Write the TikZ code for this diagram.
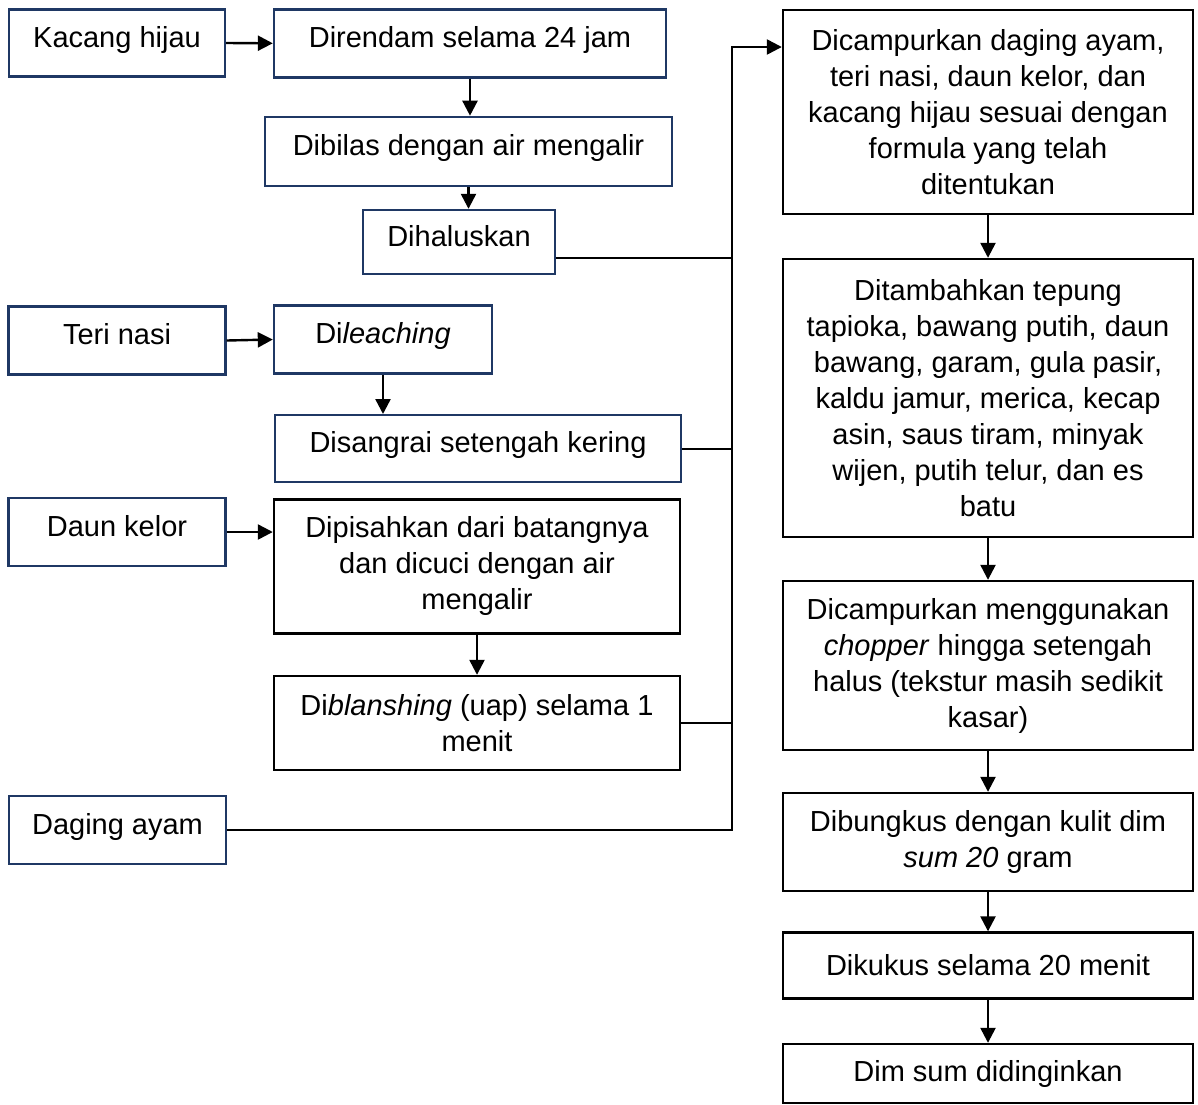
\documentclass[tikz,border=0pt]{standalone}
\usepackage{fontspec}
\setmainfont{Liberation Sans}
\usetikzlibrary{arrows.meta}
\definecolor{boxnavy}{HTML}{1F3864}
\begin{document}
\begin{tikzpicture}[x=1pt,y=-1pt,
  stepbox/.style={draw, line width=2.4pt, align=center, inner sep=2pt, font=\fontsize{29}{36}\selectfont},
  navybox/.style={stepbox, draw=boxnavy, text height=21pt, text depth=13pt},
  link/.style={line width=2.4pt},
  arr/.style={link, -{Triangle[length=15pt,width=15pt]}}]
\useasboundingbox (0,0) rectangle (1198,1104);
% kacang hijau
\node[navybox, minimum width=216pt, minimum height=67pt] (kacang) at (117,43) {Kacang hijau};
\node[navybox, minimum width=392pt, minimum height=68pt] (rendam) at (470,43.3) {Direndam selama 24 jam};
\node[navybox, minimum width=407pt, minimum height=69pt] (bilas) at (468.5,151.4) {Dibilas dengan air mengalir};
\node[navybox, minimum width=192pt, minimum height=64pt] (halus) at (459,242) {Dihaluskan};
\draw[arr] (kacang.east) -- (rendam.west);
\draw[arr] (rendam.south) -- (rendam.south |- bilas.north);
\draw[arr] (bilas.south) -- (bilas.south |- halus.north);
% teri nasi
\node[navybox, minimum width=217pt, minimum height=68pt] (teri) at (117,340.5) {Teri nasi};
\node[navybox, minimum width=218pt, minimum height=68pt] (leach) at (383,339.5) {Di\textit{leaching}};
\node[navybox, minimum width=406pt, minimum height=67pt] (sangrai) at (478,448.7) {Disangrai setengah kering};
\draw[arr] (teri.east) -- (leach.west);
\draw[arr] (leach.south) -- (leach.south |- sangrai.north);
% daun kelor
\node[navybox, minimum width=217pt, minimum height=68pt] (kelor) at (117,532) {Daun kelor};
\node[stepbox, minimum width=406pt, minimum height=134pt] (pisah) at (477,566.3) {Dipisahkan dari batangnya\\dan dicuci dengan air\\mengalir};
\node[stepbox, minimum width=406pt, minimum height=94pt] (blansing) at (477,723) {Di\textit{blanshing} (uap) selama 1\\menit};
\draw[arr] (kelor.east) -- (kelor.east -| pisah.west);
\draw[arr] (pisah.south) -- (pisah.south |- blansing.north);
% daging ayam
\node[navybox, minimum width=217pt, minimum height=68pt] (ayam) at (117.5,830) {Daging ayam};
% main line
\node[stepbox, minimum width=410pt, minimum height=204pt] (campur) at (988,112) {Dicampurkan daging ayam,\\teri nasi, daun kelor, dan\\kacang hijau sesuai dengan\\formula yang telah\\ditentukan};
\node[stepbox, minimum width=410pt, minimum height=278pt] (tambah) at (988,398) {Ditambahkan tepung\\tapioka, bawang putih, daun\\bawang, garam, gula pasir,\\kaldu jamur, merica, kecap\\asin, saus tiram, minyak\\wijen, putih telur, dan es\\batu};
\node[stepbox, minimum width=410pt, minimum height=169pt] (chopper) at (988,665.5) {Dicampurkan menggunakan\\\textit{chopper} hingga setengah\\halus (tekstur masih sedikit\\kasar)};
\node[stepbox, minimum width=410pt, minimum height=98pt] (bungkus) at (988,842) {Dibungkus dengan kulit dim\\\textit{sum 20} gram};
\node[stepbox, minimum width=410pt, minimum height=66pt] (kukus) at (988,965.5) {Dikukus selama 20 menit};
\node[stepbox, minimum width=410pt, minimum height=59pt] (dingin) at (988,1073.5) {Dim sum didinginkan};
\draw[arr] (campur) -- (tambah);
\draw[arr] (tambah) -- (chopper);
\draw[arr] (chopper) -- (bungkus);
\draw[arr] (bungkus) -- (kukus);
\draw[arr] (kukus) -- (dingin);
% collecting line
\coordinate (bustop) at (732,47);
\draw[arr] (ayam.east) -| (bustop) -- (bustop -| campur.west);
\draw[link] ([yshift=-16pt]halus.east) -- ([yshift=-16pt]halus.east -| bustop);
\foreach \src in {sangrai,blansing}
  \draw[link] (\src.east) -- (\src.east -| bustop);
\end{tikzpicture}
\end{document}
